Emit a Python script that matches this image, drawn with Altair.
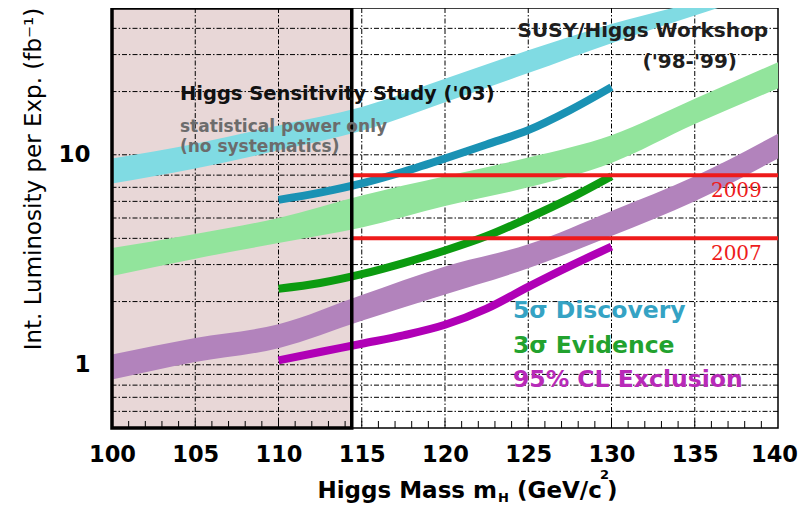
import altair as alt
import pandas as pd

# ---------------- data ----------------
masses = [100, 105, 110, 115, 120, 125, 130, 135, 140]
disc98_lo = [7.3, 8.6, 10.5, 13.0, 17.8, 24.5, 34.0, 46.0, 62.0]
disc98_hi = [9.6, 11.3, 13.8, 16.9, 23.0, 31.5, 42.0, 53.0, 66.0]
evid98_lo = [2.65, 3.2, 3.8, 4.5, 5.7, 7.0, 9.15, 14.0, 20.7]
evid98_hi = [3.6, 4.2, 5.0, 6.4, 7.9, 9.7, 12.4, 18.5, 27.6]
excl98_lo = [0.85, 1.03, 1.2, 1.62, 2.16, 2.88, 4.1, 6.0, 9.6]
excl98_hi = [1.12, 1.34, 1.56, 2.15, 2.94, 3.75, 5.4, 7.9, 12.6]

masses03 = [110, 112.5, 115, 117.5, 120, 122.5, 125, 127.5, 130]
disc03 = [6.1, 6.6, 7.3, 8.3, 9.6, 11.2, 13.1, 16.3, 21.0]
evid03 = [2.3, 2.45, 2.7, 3.05, 3.5, 4.1, 5.0, 6.2, 7.9]
excl03 = [1.05, 1.15, 1.26, 1.38, 1.55, 1.85, 2.35, 2.95, 3.65]

lep_limit = 114.4
mass_max = 140
lumi_years = ["2009", "2007"]
lumi_values = [8.0, 4.0]

x_ticks = [100, 105, 110, 115, 120, 125, 130, 135, 140]
y_labels = [1, 10]
grid_x = [105, 110, 115, 120, 125, 130, 135]
grid_y = [0.6, 0.7, 0.8, 0.9, 1, 2, 3, 4, 5, 6, 7, 8, 9, 10, 20, 30, 40]
minor_x = list(range(101, 140))

# ---------------- styles ----------------
BOX_FILL = "#e8d7d7"
BAND_COLORS = ["#80dbe3", "#92e49c", "#b283bc"]
LINE_COLORS = ["#1a92b4", "#0c9b10", "#b000b6"]
RED = "#ee1b1b"
FONT = "DejaVu Sans"

xs = alt.Scale(domain=[100, 140], nice=False, zero=False)
ys = alt.Scale(type="log", domain=[0.5, 50], nice=False)
xaxis = alt.Axis(values=x_ticks, format="d", title=None, grid=False, ticks=False,
                 domain=False, labelFont=FONT, labelFontWeight="bold",
                 labelFontSize=22.5, labelColor="black", labelPadding=15,
                 labelFlush=False, labelOverlap=False, labelBound=False,
                 labelOffset=alt.ExprRef(expr="datum.value == 140 ? -4 : 0"))
yaxis = alt.Axis(values=y_labels, format="~g", title=None, grid=False, ticks=False,
                 domain=False, labelFont=FONT, labelFontWeight="bold",
                 labelFontSize=23, labelColor="black", labelPadding=22)


def X(field):
    return alt.X(field, type="quantitative", scale=xs, axis=xaxis)


def Y(field):
    return alt.Y(field, type="quantitative", scale=ys, axis=yaxis)


box_df = pd.DataFrame({"x0": [100], "x1": [lep_limit], "y0": [0.5], "y1": [50]})
box_fill = alt.Chart(box_df).mark_rect(fill=BOX_FILL).encode(
    x=X("x0"), x2="x1", y=Y("y0"), y2="y1")

dash = [5, 2, 1.5, 2]
vgrid = alt.Chart(pd.DataFrame({"gx": grid_x})).mark_rule(
    color="black", strokeWidth=1, strokeDash=dash).encode(x=X("gx"))
hgrid = alt.Chart(pd.DataFrame({"gy": grid_y})).mark_rule(
    color="black", strokeWidth=1, strokeDash=dash).encode(y=Y("gy"))

minor = alt.Chart(pd.DataFrame({"mx": minor_x})).mark_rule(
    color="black", strokeWidth=1).encode(x=X("mx"), y=alt.value(420), y2=alt.value(413))


def band(lo, hi, color):
    df = pd.DataFrame({"mass": masses, "lo": lo, "hi": hi})
    return alt.Chart(df).mark_area(clip=True, interpolate="monotone", color=color).encode(
        x=X("mass"), y=Y("lo"), y2="hi")


def curve(vals, color):
    df = pd.DataFrame({"mass": masses03, "lumi": vals})
    return alt.Chart(df).mark_line(
        clip=True, interpolate="monotone", strokeWidth=8, strokeCap="butt",
        color=color).encode(x=X("mass"), y=Y("lumi"))


band_layers = [
    band(disc98_lo, disc98_hi, BAND_COLORS[0]),
    band(evid98_lo, evid98_hi, BAND_COLORS[1]),
    band(excl98_lo, excl98_hi, BAND_COLORS[2]),
]
line_layers = [
    curve(disc03, LINE_COLORS[0]),
    curve(evid03, LINE_COLORS[1]),
    curve(excl03, LINE_COLORS[2]),
]

lumi_df = pd.DataFrame({"year": lumi_years, "lumi": lumi_values})
lumi_df["x0"] = lep_limit
lumi_df["x1"] = mass_max
lumi_df["lx"] = 137.5
red_rules = alt.Chart(lumi_df).mark_rule(color=RED, strokeWidth=4).encode(
    x=X("x0"), x2="x1", y=Y("lumi"))
red_text = alt.Chart(lumi_df).mark_text(
    font="DejaVu Serif", fontSize=20, color=RED, align="center",
    baseline="alphabetic", dy=22).encode(x=X("lx"), y=Y("lumi"), text="year:N")

box_edge = alt.Chart(box_df).mark_rect(
    fillOpacity=0, stroke="black", strokeWidth=3.5).encode(
    x=X("x0"), x2="x1", y=Y("y0"), y2="y1")


def note(text, x, y, color, size, align="left", weight="bold", font=FONT):
    return alt.Chart(pd.DataFrame({"t": [text], "x": [x], "y": [y]})).mark_text(
        align=align, baseline="alphabetic", color=color, fontSize=size,
        fontWeight=weight, font=font).encode(x=X("x"), y=Y("y"), text="t:N")


def px_text(text, px, py, size, align="left", angle=0, weight="bold",
            baseline="alphabetic"):
    return alt.Chart(pd.DataFrame({"t": [text]})).mark_text(
        align=align, baseline=baseline, color="black", fontSize=size,
        fontWeight=weight, font=FONT, angle=angle).encode(
        x=alt.value(px), y=alt.value(py), text="t:N")


notes = [
    note("SUSY/Higgs Workshop", 139.4, 36.4, "#1e1e1e", 20, align="right"),
    note("('98-'99)", 134.7, 25.9, "#1e1e1e", 20, align="center"),
    note("Higgs Sensitivity Study ('03)", 104.08, 18.2, "#111111", 19.5),
    note("statistical power only", 104.08, 12.8, "#6c6c6c", 17),
    note("(no systematics)", 104.08, 10.3, "#6c6c6c", 17),
    note("5σ Discovery", 124.08, 1.667, "#35a3c4", 23.5),
    note("3σ Evidence", 124.08, 1.133, "#22a22e", 23.5),
    note("95% CL Exclusion", 124.08, 0.784, "#b82ab8", 23.5),
]

titles = [
    px_text("Int. Luminosity per Exp. (fb⁻¹)", -78, 171, 23, align="center",
            angle=270, weight="normal", baseline="middle"),
    px_text("Higgs Mass m", 385, 490, 23, align="right"),
    px_text("H", 386, 494, 13),
    px_text("(GeV/c", 405, 490, 23),
    px_text("2", 488, 471, 13),
    px_text(")", 495, 490, 23),
]

chart = alt.layer(
    box_fill, vgrid, hgrid, minor, *band_layers, *line_layers, red_rules, red_text,
    box_edge, *notes, *titles
).properties(
    width=666, height=420,
    autosize=alt.AutoSizeParams(type="none"),
    padding={"left": 104, "top": 0, "right": 21, "bottom": 76},
    background="white",
).configure_view(stroke="black", strokeWidth=1.5)

chart.save("out.html", embed_options={"renderer": "svg", "actions": False})
